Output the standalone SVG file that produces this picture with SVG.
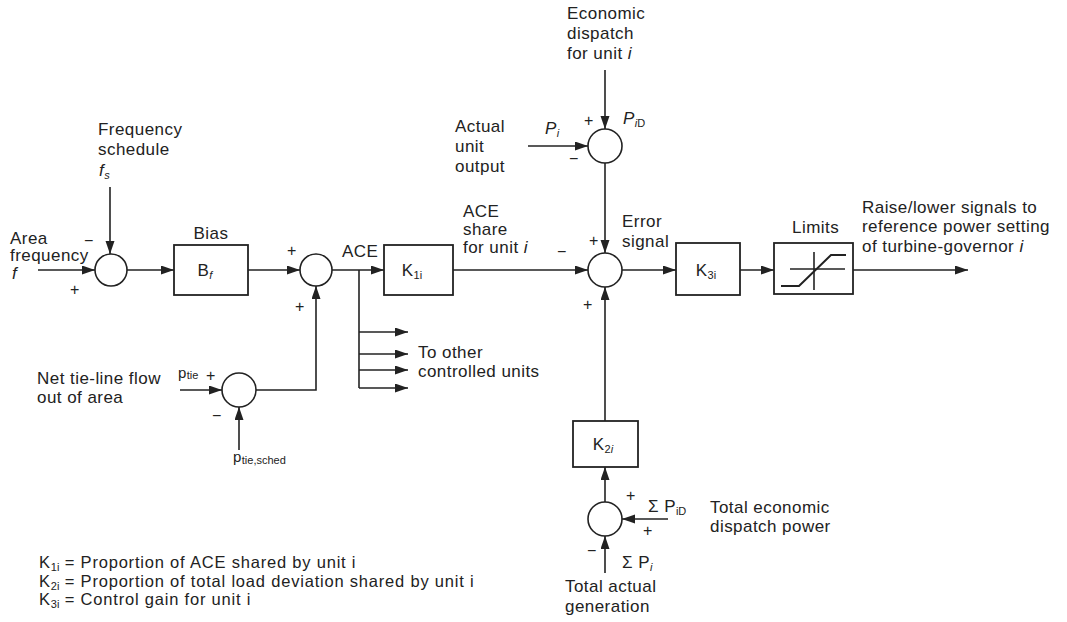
<svg xmlns="http://www.w3.org/2000/svg" width="1067" height="622" viewBox="0 0 1067 622">
<style>
text{font-family:"Liberation Sans",Arial,sans-serif;font-size:17px;fill:#222;letter-spacing:0.45px}
.sm{font-size:15px}
.lg{font-size:16.5px;letter-spacing:0.8px}
.sub{font-size:11px;letter-spacing:0}
.it{font-style:italic}
.ln{stroke:#222;stroke-width:1.6;fill:none}
.ar{stroke:#222;stroke-width:1.6;fill:none;marker-end:url(#ah)}
.bx{stroke:#222;stroke-width:1.8;fill:#fff}
.sg{font-size:16px}
</style>
<defs>
<marker id="ah" markerUnits="userSpaceOnUse" markerWidth="14" markerHeight="10" refX="13" refY="4.5" orient="auto">
<path d="M0,0 L13,4.5 L0,9 z" fill="#222"/>
</marker>
</defs>
<rect width="1067" height="622" fill="#fff"/>

<g id="connectors">
<line class="ar" x1="38" y1="270" x2="95" y2="270"/>
<line class="ar" x1="110" y1="187" x2="110" y2="254"/>
<line class="ar" x1="127" y1="270" x2="174" y2="270"/>
<line class="ar" x1="248" y1="270" x2="300" y2="270"/>
<line class="ar" x1="180" y1="390" x2="222" y2="390"/>
<line class="ar" x1="239" y1="450" x2="239" y2="407"/>
<polyline class="ar" points="256,390 316,390 316,286"/>
<line class="ar" x1="332" y1="270" x2="384" y2="270"/>
<polyline class="ln" points="359,270 359,388"/>
<line class="ar" x1="359" y1="332" x2="408" y2="332"/>
<line class="ar" x1="359" y1="354" x2="408" y2="354"/>
<line class="ar" x1="359" y1="370" x2="408" y2="370"/>
<line class="ar" x1="359" y1="388" x2="408" y2="388"/>
<line class="ar" x1="453" y1="270" x2="588" y2="270"/>
<line class="ar" x1="605" y1="70" x2="605" y2="129"/>
<line class="ar" x1="528" y1="146" x2="588" y2="146"/>
<line class="ar" x1="605" y1="163" x2="605" y2="253"/>
<line class="ar" x1="605" y1="421" x2="605" y2="287"/>
<line class="ar" x1="605" y1="502" x2="605" y2="467"/>
<line class="ar" x1="668" y1="519" x2="622" y2="519"/>
<line class="ar" x1="605" y1="573" x2="605" y2="536"/>
<line class="ar" x1="622" y1="270" x2="676" y2="270"/>
<line class="ar" x1="740" y1="270" x2="774" y2="270"/>
<line class="ar" x1="853" y1="270" x2="968" y2="270"/>
</g>

<g id="sum-freq">
<circle class="ln" cx="111" cy="270" r="16"/>
<text x="84" y="246" class="sg">−</text>
<text x="70" y="295" class="sg">+</text>
</g>

<g id="bias">
<rect class="bx" x="174" y="245" width="74" height="50"/>
<text x="211" y="239" text-anchor="middle">Bias</text>
<text x="205" y="276" text-anchor="middle">B<tspan class="sub it" dy="3">f</tspan></text>
</g>

<g id="sum-ace">
<circle class="ln" cx="316" cy="270" r="16"/>
<text x="287" y="256" class="sg">+</text>
<text x="295" y="312" class="sg">+</text>
<text x="342" y="257">ACE</text>
</g>

<g id="sum-tie">
<circle class="ln" cx="239" cy="390" r="17"/>
<text x="178" y="378" class="sm">p<tspan class="sub" dy="1">tie</tspan></text>
<text x="206" y="381" class="sg">+</text>
<text x="212" y="421" class="sg">−</text>
<text x="233" y="462" class="sm">p<tspan class="sub" dy="2">tie,sched</tspan></text>
</g>

<g id="k1">
<rect class="bx" x="384" y="245" width="69" height="50"/>
<text x="412" y="276" text-anchor="middle">K<tspan class="sub" dy="3">1i</tspan></text>
</g>

<g id="branches">
<text x="418" y="358">To other</text>
<text x="418" y="377">controlled units</text>
</g>

<g id="sum-dispatch">
<circle class="ln" cx="605" cy="146" r="17"/>
<text x="567" y="19">Economic</text>
<text x="567" y="39">dispatch</text>
<text x="567" y="59">for unit <tspan class="it">i</tspan></text>
<text x="455" y="132">Actual</text>
<text x="455" y="152">unit</text>
<text x="455" y="172">output</text>
<text x="545" y="134" class="it">P<tspan class="sub" dy="3">i</tspan></text>
<text x="584" y="126" class="sg">+</text>
<text x="569" y="164" class="sg">−</text>
<text x="623" y="124" class="it">P<tspan class="sub" dy="3">i</tspan><tspan class="sub" style="font-style:normal">D</tspan></text>
</g>

<g id="sum-error">
<circle class="ln" cx="605" cy="270" r="17"/>
<text x="463" y="217">ACE</text>
<text x="463" y="235">share</text>
<text x="463" y="253">for unit <tspan class="it">i</tspan></text>
<text x="557" y="257" class="sg">−</text>
<text x="589" y="246" class="sg">+</text>
<text x="583" y="310" class="sg">+</text>
<text x="622" y="227">Error</text>
<text x="622" y="247">signal</text>
</g>

<g id="k3">
<rect class="bx" x="676" y="243" width="64" height="52"/>
<text x="706" y="276" text-anchor="middle">K<tspan class="sub" dy="3">3i</tspan></text>
</g>

<g id="limits">
<rect class="bx" x="774" y="243" width="79" height="51"/>
<text x="792" y="233">Limits</text>
<line class="ln" x1="790" y1="269" x2="845" y2="269"/>
<line class="ln" x1="814" y1="252" x2="814" y2="290"/>
<polyline class="ln" points="781,286 799,286 831,255 846,255" style="stroke-width:2"/>
</g>

<g id="output">
<text x="862" y="213">Raise/lower signals to</text>
<text x="862" y="232">reference power setting</text>
<text x="862" y="252">of turbine-governor <tspan class="it">i</tspan></text>
</g>

<g id="k2">
<rect class="bx" x="573" y="421" width="65" height="46"/>
<text x="603" y="450" text-anchor="middle">K<tspan class="sub" dy="3">2<tspan class="it">i</tspan></tspan></text>
</g>

<g id="sum-total">
<circle class="ln" cx="605" cy="519" r="17"/>
<text x="626" y="501" class="sg">+</text>
<text x="643" y="536" class="sg">+</text>
<text x="587" y="556" class="sg">−</text>
<text x="648" y="512">Σ P<tspan class="sub" dy="3">iD</tspan></text>
<text x="622" y="568">Σ P<tspan class="sub it" dy="3">i</tspan></text>
<text x="710" y="513">Total economic</text>
<text x="710" y="532">dispatch power</text>
<text x="565" y="592">Total actual</text>
<text x="565" y="612">generation</text>
</g>

<g id="inputs-left">
<text x="98" y="135">Frequency</text>
<text x="98" y="155">schedule</text>
<text x="99" y="176" class="it">f<tspan class="sub" dy="3">s</tspan></text>
<text x="10" y="244">Area</text>
<text x="10" y="261">frequency</text>
<text x="12" y="279" class="it">f</text>
<text x="37" y="384">Net tie-line flow</text>
<text x="37" y="403">out of area</text>
</g>

<g id="legend">
<text x="39" y="568" class="lg">K<tspan class="sub" dy="3">1i</tspan><tspan dy="-3"> = Proportion of ACE shared by unit i</tspan></text>
<text x="39" y="587" class="lg">K<tspan class="sub" dy="3">2i</tspan><tspan dy="-3"> = Proportion of total load deviation shared by unit i</tspan></text>
<text x="39" y="605" class="lg">K<tspan class="sub" dy="3">3i</tspan><tspan dy="-3"> = Control gain for unit i</tspan></text>
</g>
</svg>
